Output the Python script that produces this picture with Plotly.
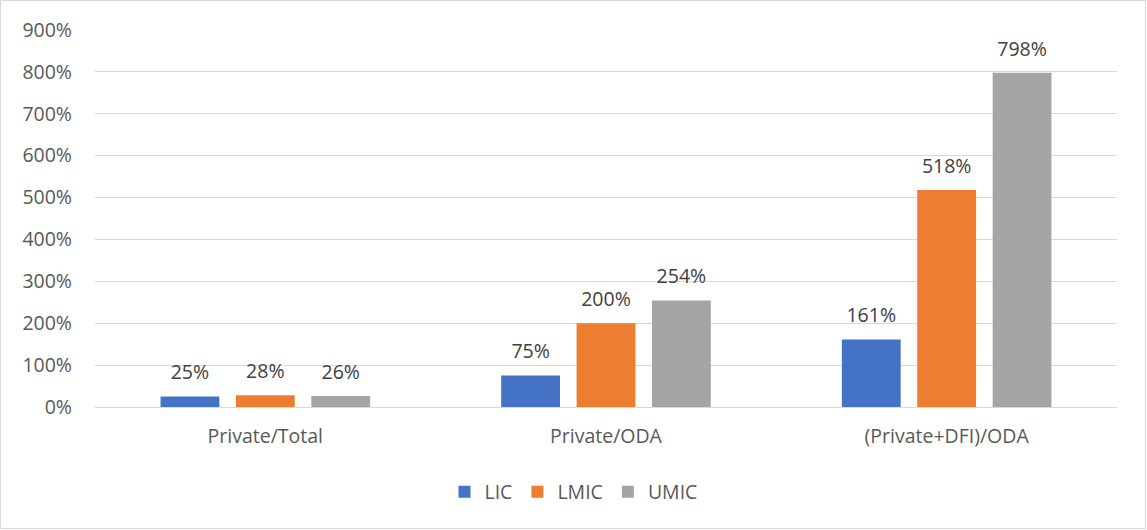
import plotly.graph_objects as go

categories = ["Private/Total", "Private/ODA", "(Private+DFI)/ODA"]
series_names = ["LIC", "LMIC", "UMIC"]
lic = [0.25, 0.75, 1.61]
lmic = [0.28, 2.00, 5.18]
umic = [0.26, 2.54, 7.98]
tick_vals = [0, 1, 2, 3, 4, 5, 6, 7, 8, 9]
colors = ["#4472C4", "#ED7D31", "#A5A5A5"]

W, H = 1147, 530
ml, mr, mt, mb = 95, 30, 30, 123
font_family = "Open Sans, Liberation Sans, sans-serif"
fs = 19.5

fig = go.Figure()
for name, vals, col in zip(series_names, [lic, lmic, umic], colors):
    fig.add_trace(go.Bar(
        x=categories, y=vals, name=name, marker_color=col, marker_line_width=0,
        offsetgroup=name, hoverinfo="skip",
    ))
for name, vals in zip(series_names, [lic, lmic, umic]):
    fig.add_trace(go.Scatter(
        x=categories, y=vals, mode="markers+text", offsetgroup=name,
        text=[f"{v*100:.0f}%" for v in vals], textposition="top center",
        marker=dict(size=18, opacity=0), showlegend=False, cliponaxis=False,
        textfont=dict(size=fs, color="#404040", family=font_family),
    ))

pw = W - ml - mr
ph = H - mt - mb
fig.update_layout(
    width=W, height=H,
    margin=dict(l=ml, r=mr, t=mt, b=mb, autoexpand=False),
    paper_bgcolor="white", plot_bgcolor="white",
    barmode="group", bargap=0.336, bargroupgap=0.22,
    scattermode="group", scattergap=0.336,
    font=dict(family=font_family, color="#595959", size=fs),
    legend=dict(orientation="h", x=0.5, xanchor="center", xref="container",
                y=1 - 492 / H, yanchor="middle", yref="container",
                font=dict(size=fs, color="#595959"), itemwidth=30, traceorder="normal"),
    xaxis=dict(showgrid=False, showline=True, linecolor="#D9D9D9", linewidth=1,
               ticks="", ticklabelstandoff=12, automargin=False,
               tickfont=dict(size=fs, color="#595959")),
    yaxis=dict(range=[0, 9], tickvals=tick_vals, tickformat=".0%", showgrid=True,
               gridcolor="#D9D9D9", gridwidth=1, zeroline=False, showline=False,
               ticks="", ticklabelstandoff=22, automargin=False,
               tickfont=dict(size=fs, color="#595959")),
    shapes=[dict(type="rect", xref="paper", yref="paper",
                 x0=-(ml - 0.5) / pw, x1=1 + (mr - 1.5) / pw,
                 y0=-(mb - 1.5) / ph, y1=1 + (mt - 0.5) / ph,
                 line=dict(color="#D9D9D9", width=1), layer="below")],
)
fig.write_html("out.html", config={"displayModeBar": False},
               post_script="document.body.style.margin='0px';")
